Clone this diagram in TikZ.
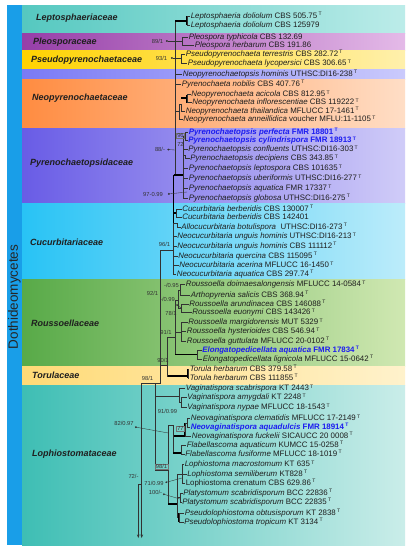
\documentclass[tikz,border=0pt]{standalone}
\usepackage{fontspec}
\setmainfont{Liberation Sans}
\usetikzlibrary{arrows.meta}
\definecolor{barblue}{RGB}{25,158,232}
\definecolor{lepL}{RGB}{85,200,192}\definecolor{lepR}{RGB}{188,236,233}
\definecolor{pleL}{RGB}{150,62,168}\definecolor{pleR}{RGB}{228,186,232}
\definecolor{pseL}{RGB}{255,210,0}\definecolor{pseR}{RGB}{255,240,172}
\definecolor{lavL}{RGB}{122,122,245}\definecolor{lavR}{RGB}{202,202,252}
\definecolor{neoL}{RGB}{255,140,65}\definecolor{neoR}{RGB}{255,222,198}
\definecolor{pyrL}{RGB}{105,92,230}\definecolor{pyrR}{RGB}{208,204,248}
\definecolor{cucL}{RGB}{40,195,245}\definecolor{cucR}{RGB}{188,236,250}
\definecolor{rouL}{RGB}{88,170,72}\definecolor{rouR}{RGB}{208,232,178}
\definecolor{torL}{RGB}{255,218,118}\definecolor{torR}{RGB}{255,242,204}
\definecolor{lopL}{RGB}{62,190,180}\definecolor{lopR}{RGB}{202,237,233}
\definecolor{txtc}{RGB}{30,30,30}
\definecolor{newblue}{RGB}{28,28,240}
\definecolor{linec}{RGB}{50,50,50}
\newcommand{\tT}{\,\raisebox{0.6ex}{\fontsize{5}{5}\selectfont T}}
\newcommand{\gs}[1]{\textit{#1}}
\begin{document}
\begin{tikzpicture}[x=1pt,y=-1pt,
  tx/.style={anchor=west,inner sep=0.6pt,font=\fontsize{7.9}{9}\selectfont,text=txtc,text height=5.8pt,text depth=1.7pt},
  txb/.style={tx,text=newblue,font=\bfseries\fontsize{7.9}{9}\selectfont},
  fam/.style={anchor=west,inner sep=0pt,font=\bfseries\itshape\fontsize{9}{10}\selectfont,text=black!88,text height=6.5pt,text depth=1.9pt},
  bs/.style={inner sep=0pt,font=\fontsize{5.8}{6}\selectfont,text=black!80},
  bsbox/.style={bs,inner sep=0.7pt,draw=black!55,line width=0.3pt},
  br/.style={draw=linec,line width=0.5pt},
  thk/.style={draw=black,line width=1.6pt},
  ld/.style={draw=black!80,line width=0.35pt,{Circle[length=1.8pt]}-}]
\useasboundingbox (0,0) rectangle (412,550);
\fill[white] (0,0) rectangle (412,550);
% bands
\shade[left color=lepL,right color=lepR] (22,5) rectangle (405,33);
\shade[left color=pleL,right color=pleR] (22,33) rectangle (405,50);
\shade[left color=pseL,right color=pseR] (22,50) rectangle (405,69);
\shade[left color=lavL,right color=lavR] (22,69) rectangle (405,79);
\shade[left color=neoL,right color=neoR] (22,79) rectangle (405,128);
\shade[left color=pyrL,right color=pyrR] (22,128) rectangle (405,203);
\shade[left color=cucL,right color=cucR] (22,203) rectangle (405,279);
\shade[left color=rouL,right color=rouR] (22,279) rectangle (405,366);
\shade[left color=torL,right color=torR] (22,366) rectangle (405,385);
\shade[left color=lopL,right color=lopR] (22,385) rectangle (405,545);
\fill[barblue] (7,5) rectangle (22,545);
\node[rotate=90,inner sep=0pt,font=\fontsize{13.5}{14}\selectfont,text=black!85] (cls) at (14.5,297) {Dothideomycetes};
% families
\node[fam] (f1) at (36,18.5) {Leptosphaeriaceae};
\node[fam] (f2) at (33,42) {Pleosporaceae};
\node[fam] (f3) at (31,60) {Pseudopyrenochaetaceae};
\node[fam] (f4) at (32,98) {Neopyrenochaetaceae};
\node[fam] (f5) at (30,163) {Pyrenochaetopsidaceae};
\node[fam] (f6) at (30,243) {Cucurbitariaceae};
\node[fam] (f7) at (31,324) {Roussoellaceae};
\node[fam] (f8) at (32,376) {Torulaceae};
\node[fam] (f9) at (32,454) {Lophiostomataceae};
% taxa
\node[tx] (t1) at (190,16) {\gs{Leptosphaeria doliolum} CBS 505.75\tT};
\node[tx] (t2) at (190,25) {\gs{Leptosphaeria doliolum} CBS 125979};
\node[tx] (t3) at (188,37.5) {\gs{Pleospora typhicola} CBS 132.69};
\node[tx] (t4) at (194,45) {\gs{Pleospora herbarum} CBS 191.86};
\node[tx] (t5) at (185,54) {\gs{Pseudopyrenochaeta terrestris} CBS 282.72\tT};
\node[tx] (t6) at (187,63.5) {\gs{Pseudopyrenochaeta lycopersici} CBS 306.65\tT};
\node[tx] (t7) at (182,74) {\gs{Neopyrenochaetopsis hominis} UTHSC:DI16-238\tT};
\node[tx] (t8) at (181,84) {\gs{Pyrenochaeta nobilis} CBS 407.76\tT};
\node[tx] (t9) at (190.5,94.5) {\gs{Neopyrenochaeta acicola} CBS 812.95\tT};
\node[tx] (t10) at (191.5,102.5) {\gs{Neopyrenochaeta inflorescentiae} CBS 119222\tT};
\node[tx] (t11) at (185,111) {\gs{Neopyrenochaeta thailandica} MFLUCC 17-1461\tT};
\node[tx] (t12) at (182.5,119.5) {\gs{Neopyrenochaeta anneillidica} voucher MFLU:11-1105\tT};
\node[txb] (t13) at (188,132) {\textit{Pyrenochaetopsis perfecta} FMR 18801\tT};
\node[txb] (t14) at (187.5,140.5) {\textit{Pyrenochaetopsis cylindrispora} FMR 18913\tT};
\node[tx] (t15) at (187.5,149.5) {\gs{Pyrenochaetopsis confluents} UTHSC:DI16-303\tT};
\node[tx] (t16) at (189.5,158.5) {\gs{Pyrenochaetopsis decipiens} CBS 343.85\tT};
\node[tx] (t17) at (188,168.5) {\gs{Pyrenochaetopsis leptospora} CBS 101635\tT};
\node[tx] (t18) at (188,178.5) {\gs{Pyrenochaetopsis uberiformis} UTHSC:DI16-277\tT};
\node[tx] (t19) at (188,188.5) {\gs{Pyrenochaetopsis aquatica} FMR 17337\tT};
\node[tx] (t20) at (188,198) {\gs{Pyrenochaetopsis globosa} UTHSC:DI16-275\tT};
\node[tx] (t21) at (181.5,209) {\gs{Cucurbitaria berberidis} CBS 130007\tT};
\node[tx] (t22) at (181.5,217.5) {\gs{Cucurbitaria berberidis} CBS 142401};
\node[tx] (t23) at (180.5,227) {\gs{Allocucurbitaria botulispora}\ \ UTHSC:DI16-273\tT};
\node[tx] (t24) at (176.5,236.5) {\gs{Neocucurbitaria unguis hominis} UTHSC:DI16-213\tT};
\node[tx] (t25) at (176.5,246) {\gs{Neocucurbitaria unguis hominis} CBS 111112\tT};
\node[tx] (t26) at (177.5,256) {\gs{Neocucurbitaria quercina} CBS 115095\tT};
\node[tx] (t27) at (178.5,265.5) {\gs{Neocucurbitaria acerina} MFLUCC 16-1450\tT};
\node[tx] (t28) at (176,274) {\gs{Neocucurbitaria aquatica} CBS 297.74\tT};
\node[tx] (t29) at (185,284.5) {\gs{Roussoella doimaesalongensis} MFLUCC 14-0584\tT};
\node[tx] (t30) at (190,295) {\gs{Arthopyrenia salicis} CBS 368.94\tT};
\node[tx] (t31) at (188.5,304) {\gs{Roussoella arundinacea} CBS 146088\tT};
\node[tx] (t32) at (191.5,312.5) {\gs{Roussoella euonymi} CBS 143426\tT};
\node[tx] (t33) at (187.5,322.5) {\gs{Roussoella margidorensis} MUT 5329\tT};
\node[tx] (t34) at (186,331.5) {\gs{Roussoella hysterioides} CBS 546.94\tT};
\node[tx] (t35) at (186,341) {\gs{Roussoella guttulata} MFLUCC 20-0102\tT};
\node[txb] (t36) at (201.5,350) {\textit{Elongatopedicellata aquatica} FMR 17834\tT};
\node[tx] (t37) at (202,359) {\gs{Elongatopedicellata lignicola} MFLUCC 15-0642\tT};
\node[tx] (t38) at (189,369) {\gs{Torula herbarum} CBS 379.58\tT};
\node[tx] (t39) at (189,378) {\gs{Torula herbarum} CBS 111855\tT};
\node[tx] (t40) at (185,388.5) {\gs{Vaginatispora scabrispora} KT 2443\tT};
\node[tx] (t41) at (186.5,397.5) {\gs{Vaginatispora amygdali} KT 2248\tT};
\node[tx] (t42) at (186.5,407.5) {\gs{Vaginatispora nypae} MFLUCC 18-1543\tT};
\node[tx] (t43) at (190,418.5) {\gs{Neovaginatispora clematidis} MFLUCC 17-2149\tT};
\node[txb] (t44) at (190,427) {\textit{Neovaginatispora aquadulcis} FMR 18914\tT};
\node[tx] (t45) at (191,436) {\gs{Neovaginatispora fuckelii} SICAUCC 20 0008\tT};
\node[tx] (t46) at (186,445) {\gs{Flabellascoma aquaticum} KUMCC 15-0258\tT};
\node[tx] (t47) at (184.5,454) {\gs{Flabellascoma fusiforme} MFLUCC 18-1019\tT};
\node[tx] (t48) at (184,464.5) {\gs{Lophiostoma macrostomum} KT 635\tT};
\node[tx] (t49) at (186.5,474) {\gs{Lophiostoma semiliberum} KT828\tT};
\node[tx] (t50) at (185,483) {Lophiostoma crenatum CBS 629.86\tT};
\node[tx] (t51) at (182.5,493) {\gs{Platystomum scabridisporum} BCC 22836\tT};
\node[tx] (t52) at (181.5,502) {\gs{Platystomum scabridisporum} BCC 22835\tT};
\node[tx] (t53) at (184,513) {\gs{Pseudolophiostoma obtusisporum} KT 2838\tT};
\node[tx] (t54) at (183.5,522) {\gs{Pseudolophiostoma tropicum} KT 3134\tT};
% internal nodes
\coordinate (bb) at (175,21);
\coordinate (nLep) at (187,21);
\coordinate (nPle) at (182,41);
\coordinate (nPse) at (181,58.5);
\coordinate (nN3) at (179,111);
\coordinate (nN2) at (181,104);
\coordinate (nN1) at (187,98);
\coordinate (nPy) at (183,175);
\coordinate (nPy1) at (185,136);
\coordinate (nDec) at (185,155);
\coordinate (n96) at (160,250);
\coordinate (nCu) at (173.5,250);
\coordinate (nCb) at (176.5,213);
\coordinate (nAl) at (177,223);
\coordinate (nRoot) at (141.7,383);
\coordinate (nJ) at (160,383);
\coordinate (n90) at (167.7,365);
\coordinate (nRo) at (175,337);
\coordinate (nTo) at (188,376);
\coordinate (nRC) at (178,300);
\coordinate (nRA) at (180,290);
\coordinate (nRB) at (181,308);
\coordinate (nRD) at (181,332);
\coordinate (nRE) at (197,354.5);
\coordinate (nLA) at (155,383);
\coordinate (nLB) at (155,470);
\coordinate (nL1) at (168.3,470);
\coordinate (nV) at (179,396);
\coordinate (nV1) at (181,402.5);
\coordinate (nL2) at (173.3,425);
\coordinate (nNv) at (185,436);
\coordinate (nNa) at (187,422.75);
\coordinate (nF) at (181,453);
\coordinate (nL3) at (177,504);
\coordinate (nLo) at (182,474);
\coordinate (nPl) at (180,497.5);
\coordinate (nPs) at (179,517.5);
\coordinate (n72) at (138.3,484);
\coordinate (ar1) at (141.7,538);
\coordinate (ar2) at (138.3,538);
% upper backbone
\draw[br] (bb) |- (nPle);
\draw[br] (bb) |- (nPse);
\draw[br] (bb) |- (t7.west);
\draw[br] (bb) |- (t8.west);
\draw[br] (bb) |- (nN3);
\draw[br] (bb) |- (nPy);
\draw[thk] (bb) -- (nLep);
\draw[thk] (nLep |- t1.west) -- (nLep |- t2.west);
\draw[br] (nLep) |- (t1.west);
\draw[br] (nLep) |- (t2.west);
\draw[br] (nPle) |- (t3.west);
\draw[br] (nPle) |- (t4.west);
\draw[br] (nPse) |- (t5.west);
\draw[br] (nPse) |- (t6.west);
\draw[br] (nN3) |- (nN2);
\draw[br] (nN3) |- (t12.west);
\draw[br] (nN2) |- (t11.west);
\draw[thk] (nN2 |- nN1) -- (nN1);
\draw[thk] (nN1 |- t9.west) -- (nN1 |- t10.west);
\draw[br] (nN1) |- (t9.west);
\draw[br] (nN1) |- (t10.west);
% Pyrenochaetopsis
\draw[br] (nPy) |- (nPy1);
\draw[br] (nPy1) |- (t13.west);
\draw[br] (nPy1) |- (t14.west);
\draw[br] (nPy) |- (t15.west);
\draw[br] (nPy) |- (nDec);
\draw[br] (nDec) |- (t16.west);
\draw[br] (nPy) |- (t17.west);
\draw[br] (nPy) |- (t18.west);
\draw[br] (nPy) |- (t19.west);
\draw[br] (nPy) |- (t20.west);
\draw[thk] (nCu |- nPy) -- (nPy);
% Cucurbitariaceae
\draw[br] (n96) -- (nCu);
\draw[thk] (nCu |- nPy) -- (nCu |- t27.west);
\draw[thk] (nCu |- nCb) -- (nCb);
\draw[thk] (nCb |- t21.west) -- (nCb |- t22.west);
\draw[br] (nCb) |- (t21.west);
\draw[br] (nCb) |- (t22.west);
\draw[br] (nCu) |- (nAl) |- (t23.west);
\draw[br] (nCu) |- (t24.west);
\draw[br] (nCu) |- (t25.west);
\draw[br] (nCu) |- (t26.west);
\draw[br] (nCu) |- (t27.west);
\draw[br] (nCu) |- (t28.west);
% junction
\draw[br] (nRoot) -- (nJ) -- (n96);
\draw[br] (n96) |- (n90);
\draw[br] (n90) |- (nRo);
\draw[br] (n90) |- (nTo);
\draw[thk] (n90 |- nTo) -- (nTo);
\draw[thk] (nTo |- t38.west) -- (nTo |- t39.west);
\draw[br] (nTo) |- (t38.west);
\draw[br] (nTo) |- (t39.west);
% Roussoellaceae
\draw[br] (nRo) |- (nRC);
\draw[br] (nRC) |- (nRA);
\draw[br] (nRC) |- (nRB);
\draw[br] (nRA) |- (t29.west);
\draw[br] (nRA) |- (t30.west);
\draw[br] (nRB) |- (t31.west);
\draw[br] (nRB) |- (t32.west);
\draw[br] (nRo) |- (nRD);
\draw[br] (nRD) |- (t33.west);
\draw[br] (nRD) |- (t34.west);
\draw[br] (nRD) |- (t35.west);
\draw[br] (nRo) |- (nRE);
\draw[thk] (nRo |- nRE) -- (nRE);
\draw[br] (nRE) |- (t36.west);
\draw[br] (nRE) |- (t37.west);
% Lophiostomataceae
\draw[br] (nLA) -- (nLB) -- (nL1);
\draw[br] (nLA) |- (nV);
\draw[br] (nV) |- (t40.west);
\draw[br] (nV) |- (nV1);
\draw[br] (nV1) |- (t41.west);
\draw[br] (nV1) |- (t42.west);
\draw[br] (nL1) |- (nL2);
\draw[br] (nL2) |- (nNv);
\draw[thk] (nL2 |- nNv) -- (nNv);
\draw[thk] (nNv) -- (nNv |- nNa);
\draw[br] (nNv) |- (nNa);
\draw[br] (nNa) |- (t43.west);
\draw[br] (nNa) |- (t44.west);
\draw[br] (nNv) -- (t45.west);
\draw[br] (nL2) |- (nF);
\draw[thk] (nL2 |- nF) -- (nF);
\draw[br] (nF) |- (t46.west);
\draw[br] (nF) |- (t47.west);
\draw[br] (nL1) |- (nL3);
\draw[thk] (nL1 |- nL3) -- (nL3);
\draw[br] (nL3) |- (nLo);
\draw[br] (nLo) |- (t48.west);
\draw[br] (nLo) |- (t49.west);
\draw[br] (nLo) |- (t50.west);
\draw[br] (nL3) |- (nPl);
\draw[br] (nPl) |- (t51.west);
\draw[br] (nPl) |- (t52.west);
\draw[br] (nL3) |- (nPs);
\draw[thk] (nPs |- t53.west) -- (nPs |- t54.west);
\draw[br] (nPs) |- (t53.west);
\draw[br] (nPs) |- (t54.west);
% root arrows
\draw[br,-{Stealth[length=3.5pt,width=2.6pt]}] (nRoot) -- (ar1);
\draw[br,-{Stealth[length=3.5pt,width=2.6pt]}] (n72 -| nRoot) -- (n72) -- (ar2);
% support values
\node[bs] (s1) at (157.5,41) {89/1};
\node[bs] (s2) at (161.5,58) {93/1};
\node[bs] (s3) at (160,149) {88/-};
\node[bs] (s4) at (153,194) {97-0.99};
\node[bsbox] (s5) at (180.5,135.5) {96};
\node[bs] (s6) at (180.5,144.5) {72};
\node[bs] (s7) at (164.5,244) {96/1};
\node[bs] (s8) at (152.5,293) {92/1};
\node[bs] (s9) at (171.5,285) {-/0.95};
\node[bs] (s10) at (167.5,299.5) {-/0.99};
\node[bs] (s11) at (171,313.5) {78/1};
\node[bs] (s12) at (166,332) {91/1};
\node[bs] (s13) at (163,360.5) {90/1};
\node[bs] (s14) at (147.5,378) {98/1};
\node[bs] (s15) at (167.5,411.5) {91/0.99};
\node[bsbox] (s16) at (180.5,428.5) {77};
\node[bs] (s17) at (124,423) {82/0.97};
\node[bsbox] (s18) at (161.5,466.5) {98/1};
\node[bs] (s19) at (133.5,476) {72/-};
\node[bs] (s20) at (154,483.5) {71/0.99};
\node[bs] (s21) at (155.5,492.5) {100/-};
% leaders
\coordinate (d1) at (166,41);
\coordinate (d2) at (171,58);
\coordinate (d3) at (167.5,149.5);
\coordinate (d4) at (168,194);
\coordinate (d5) at (176.5,304.5);
\coordinate (d6) at (135,427);
\coordinate (d7) at (165.5,482.5);
\coordinate (d8) at (163,494);
\draw[ld] (d1) -- (bb |- d1);
\draw[ld] (d2) -- (bb |- d2);
\draw[ld] (d3) -- (175,150);
\draw[ld] (d4) -- (187,192);
\draw[ld] (d5) -- (nRB);
\draw[ld] (d6) -- (168.3,433);
\draw[ld] (d7) -- (182,478);
\draw[ld] (d8) -- (180,499);
\end{tikzpicture}
\end{document}
